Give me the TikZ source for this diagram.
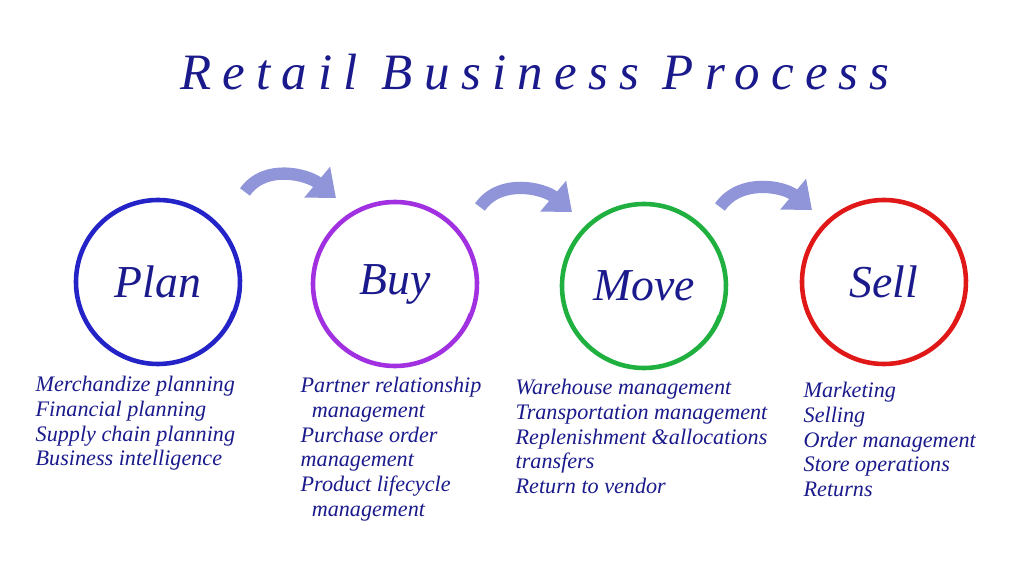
\documentclass[tikz,border=0pt]{standalone}
\usepackage{fontspec}
\setmainfont{Liberation Serif}
\newfontfamily\titlefont[LetterSpace=22]{Liberation Serif}
\usepackage{xcolor}
\usetikzlibrary{arrows.meta}
\definecolor{inkblue}{HTML}{1A1A8C}
\definecolor{arrowblue}{HTML}{8F95D8}
\definecolor{planblue}{HTML}{2323C8}
\definecolor{buyviolet}{HTML}{A030E0}
\definecolor{movegreen}{HTML}{20B040}
\definecolor{sellred}{HTML}{E01818}
\begin{document}
\begin{tikzpicture}[x=0.01cm,y=-0.01cm,
  stage/.style={circle,minimum size=1.6cm,text=inkblue,font=\itshape\fontsize{13}{15}\selectfont},
  ring/.style={line width=1.3pt},
  items/.style={anchor=north west,align=left,inner sep=0pt,text=inkblue,font=\itshape\fontsize{6.3}{7.1}\selectfont},
  hop/.style={arrowblue,line width=3.5pt,-{Triangle[length=7pt,width=11pt]}}]
\useasboundingbox (0,0) rectangle (1023,573);

\node[text=inkblue,font=\titlefont\itshape\fontsize{14.5}{16}\selectfont] (title) at (535,72) {Retail Business Process};

\node[stage] (plan) at (158,282) {Plan};
\node[stage] (buy) at (395,284) {Buy};
\node[stage] (move) at (644,286) {Move};
\node[stage] (sell) at (884,282) {Sell};

\draw[ring,planblue] (plan.center) ++(40:82) arc (40:405:82) arc (45:20:76);
\draw[ring,buyviolet] (buy.center) ++(40:82) arc (40:405:82) arc (45:20:76);
\draw[ring,movegreen] (move.center) ++(40:82) arc (40:405:82) arc (45:20:76);
\draw[ring,sellred] (sell.center) ++(40:82) arc (40:405:82) arc (45:20:76);

\coordinate (a1) at (245,192); \coordinate (b1) at (336,198);
\coordinate (a2) at (480,207); \coordinate (b2) at (572,212);
\coordinate (a3) at (720,207); \coordinate (b3) at (812,210);
\draw[hop] (a1) to[out=55,in=140] (b1);
\draw[hop] (a2) to[out=55,in=140] (b2);
\draw[hop] (a3) to[out=55,in=140] (b3);

\node[items] (planlist) at (35,375) {Merchandize planning\\Financial planning\\Supply chain planning\\Business intelligence};
\node[items] (buylist) at (300,376) {Partner relationship\\\ \ management\\Purchase order\\management\\Product lifecycle\\\ \ management};
\node[items] (movelist) at (515,378) {Warehouse management\\Transportation management\\Replenishment \&allocations\\transfers\\Return to vendor};
\node[items] (selllist) at (803,381) {Marketing\\Selling\\Order management\\Store operations\\Returns};
\end{tikzpicture}
\end{document}
